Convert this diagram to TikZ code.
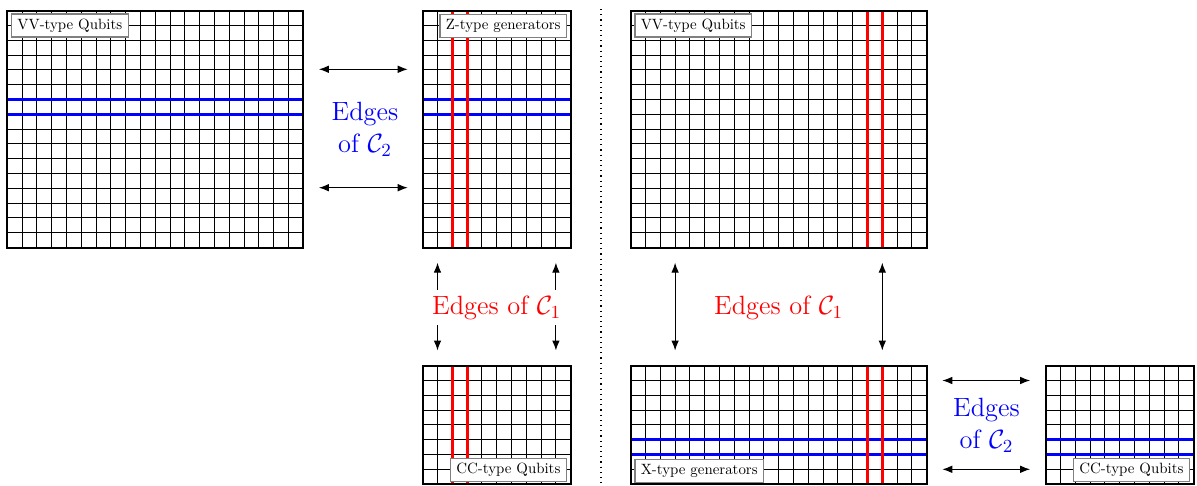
\RequirePackage{fix-cm}
\documentclass[tikz,border=0pt]{standalone}
\usetikzlibrary{arrows.meta}
\newcommand{\qgrid}[5]{%
  \pgfmathsetmacro{\qw}{#4*7.4}%
  \pgfmathsetmacro{\qh}{#5*7.4}%
  \node[gridarea, minimum width=\qw pt, minimum height=\qh pt, anchor=north west] (#1) at (#2,#3) {};
  \pgfmathtruncatemacro{\qnc}{#4-1}%
  \pgfmathtruncatemacro{\qnr}{#5-1}%
  \foreach \i in {1,...,\qnc}{\draw[gline] ([xshift=\i*7.4pt]#1.north west) -- ([xshift=\i*7.4pt]#1.south west);}
  \foreach \j in {1,...,\qnr}{\draw[gline] ([yshift=-\j*7.4pt]#1.north west) -- ([yshift=-\j*7.4pt]#1.north east);}
}
\newcommand{\qrow}[2]{\draw[bline] ([yshift=-#2*7.4pt]#1.north west) -- ([yshift=-#2*7.4pt]#1.north east);}
\newcommand{\qcol}[2]{\draw[rline] ([xshift=#2*7.4pt]#1.north west) -- ([xshift=#2*7.4pt]#1.south west);}
\newcommand{\qframe}[1]{\draw[gframe] (#1.north west) rectangle (#1.south east);}
\newcommand{\tagtxt}[1]{\scalebox{0.745}{\strut #1}}
\begin{document}
\begin{tikzpicture}[x=0.5pt,y=-0.5pt,
  gridarea/.style={draw=none, inner sep=0pt, outer sep=0pt},
  gline/.style={line width=0.5pt, black},
  gframe/.style={line width=1pt, black},
  bline/.style={line width=1.6pt, blue},
  rline/.style={line width=1.6pt, red},
  tag/.style={draw=gray, fill=white, line width=0.7pt, inner xsep=3pt, inner ysep=1.2pt, minimum height=11.5pt},
  arr/.style={{Latex[length=5pt,width=3.8pt]}-{Latex[length=5pt,width=3.8pt]}, line width=0.5pt},
  big/.style={font=\fontsize{13.2}{16}\selectfont, align=center},
  sep/.style={dotted, line width=0.6pt},
]
\useasboundingbox (0,0) rectangle (1197,486);

% grids
\qgrid{A}{7.3}{10.7}{20}{16}
\qgrid{B}{422.7}{10.7}{10}{16}
\qgrid{C}{422.7}{365.7}{10}{8}
\qgrid{D}{630.7}{10.7}{20}{16}
\qgrid{E}{630.7}{365.7}{20}{8}
\qgrid{F}{1045.7}{365.7}{10}{8}

% blue rows
\qrow{A}{6} \qrow{A}{7}
\qrow{B}{6} \qrow{B}{7}
\qrow{E}{5} \qrow{E}{6}
\qrow{F}{5} \qrow{F}{6}
% red columns
\qcol{B}{2} \qcol{B}{3}
\qcol{C}{2} \qcol{C}{3}
\qcol{D}{16} \qcol{D}{17}
\qcol{E}{16} \qcol{E}{17}

% frames
\qframe{A} \qframe{B} \qframe{C} \qframe{D} \qframe{E} \qframe{F}

% tags
\node[tag, anchor=north west] (tA) at ([xshift=1.7pt,yshift=-1.3pt]A.north west) {\tagtxt{VV-type Qubits}};
\node[tag, anchor=north east] (tB) at ([xshift=-1.7pt,yshift=-1.6pt]B.north east) {\tagtxt{Z-type generators}};
\node[tag, anchor=south east] (tC) at ([xshift=-1.8pt,yshift=1pt]C.south east) {\tagtxt{CC-type Qubits}};
\node[tag, anchor=north west] (tD) at ([xshift=1.7pt,yshift=-1.3pt]D.north west) {\tagtxt{VV-type Qubits}};
\node[tag, anchor=south west] (tE) at ([xshift=1.7pt,yshift=0.5pt]E.south west) {\tagtxt{X-type generators}};
\node[tag, anchor=south east] (tF) at ([xshift=-1.8pt,yshift=1pt]F.south east) {\tagtxt{CC-type Qubits}};

% separator
\coordinate (dtop) at (601,9);
\coordinate (dbot) at (601,486);
\draw[sep] (dtop) -- (dbot);

% arrows top-left
\draw[arr, shorten <=7.8pt, shorten >=7.5pt] (A.east |- 0,69.3) -- (B.west |- 0,69.3);
\draw[arr, shorten <=7.8pt, shorten >=7.5pt] (A.east |- 0,187.7) -- (B.west |- 0,187.7);
\node[big, text=blue] (T1) at (365,129) {Edges\\of $\mathcal{C}_2$};

% arrows left vertical
\draw[arr, shorten <=7.6pt, shorten >=7.6pt] (B.south -| 437.5,0) -- (C.north -| 437.5,0);
\draw[arr, shorten <=7.6pt, shorten >=7.6pt] (B.south -| 555.9,0) -- (C.north -| 555.9,0);
\node[big, text=red, fill=white, inner sep=2.8pt] (T2) at (496.7,307.5) {Edges of $\mathcal{C}_1$};

% arrows right vertical
\draw[arr, shorten <=7.6pt, shorten >=7.6pt] (D.south -| 675.1,0) -- (E.north -| 675.1,0);
\draw[arr, shorten <=7.6pt, shorten >=7.6pt] (D.south -| 882.3,0) -- (E.north -| 882.3,0);
\node[big, text=red] (T3) at (778.7,307.5) {Edges of $\mathcal{C}_1$};

% arrows bottom-right
\draw[arr, shorten <=7.8pt, shorten >=7.8pt] (E.east |- 0,380.5) -- (F.west |- 0,380.5);
\draw[arr, shorten <=7.8pt, shorten >=7.8pt] (E.east |- 0,469.3) -- (F.west |- 0,469.3);
\node[big, text=blue] (T4) at (986.5,425) {Edges\\of $\mathcal{C}_2$};
\end{tikzpicture}
\end{document}
